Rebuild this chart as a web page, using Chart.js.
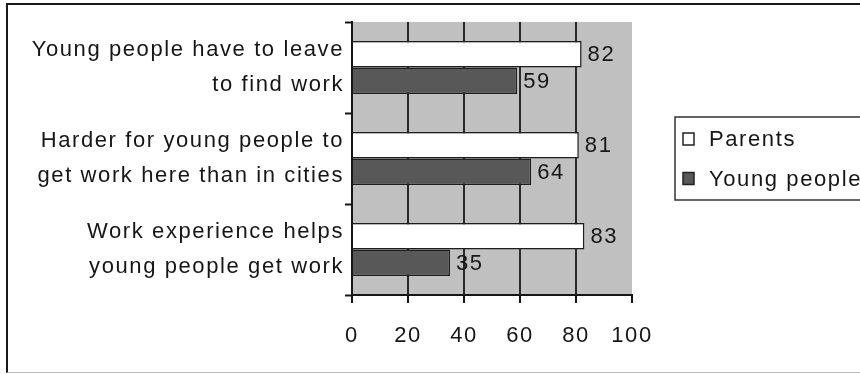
<!DOCTYPE html>
<html>
<head>
<meta charset="utf-8">
<title>Work for young people</title>
<script src="https://cdn.jsdelivr.net/npm/chart.js@4.4.1/dist/chart.umd.min.js"></script>
<style>
  html, body { margin: 0; padding: 0; background: #fff; overflow: hidden; }
  body { width: 860px; height: 374px; position: relative; }
  #frame {
    position: absolute; left: 6px; top: 3px; width: 1000px; height: 367px;
    border-top: 2px solid #1a1a1a; border-left: 2px solid #1a1a1a; border-bottom: 1px solid #bdbdbd;
  }
  #chart { position: absolute; left: 0; top: 0; }
</style>
</head>
<body>
<div id="frame"></div>
<canvas id="chart" width="900" height="374"></canvas>
<script>
// survey answers, percent agreeing
const categories = [
  ['Young people have to leave', 'to find work'],
  ['Harder for young people to', 'get work here than in cities'],
  ['Work experience helps', 'young people get work']
];
const seriesNames = ['Parents', 'Young people'];
const parents = [82, 81, 83];
const youngPeople = [59, 64, 35];
const xTicks = [0, 20, 40, 60, 80, 100];

const ink = '#161616';
const font = { family: "'Liberation Sans', Arial, sans-serif", size: 22 };

// grey plot background, behind grid and bars
const plotBackground = {
  id: 'plotBackground',
  beforeDraw(chart) {
    const { ctx, chartArea: a } = chart;
    ctx.letterSpacing = '1.6px';
    ctx.save();
    ctx.fillStyle = '#c0c0c0';
    ctx.fillRect(a.left, a.top, a.right - a.left, a.bottom - a.top);
    ctx.restore();
  }
};

// value written just past the end of each bar
const valueLabels = {
  id: 'valueLabels',
  afterDatasetsDraw(chart) {
    const ctx = chart.ctx;
    ctx.save();
    ctx.font = `${font.size}px ${font.family}`;
    ctx.fillStyle = ink;
    ctx.textAlign = 'left';
    ctx.textBaseline = 'middle';
    chart.data.datasets.forEach((ds, i) => {
      chart.getDatasetMeta(i).data.forEach((bar, j) => {
        ctx.fillText(String(ds.data[j]), bar.x + 6, bar.y + 1);
      });
    });
    ctx.restore();
  }
};

// boxed legend to the right of the plot
const boxLegend = {
  id: 'boxLegend',
  afterDraw(chart) {
    const { ctx, chartArea: a } = chart;
    const mid = (a.top + a.bottom) / 2;
    const left = a.right + 43;
    ctx.save();
    ctx.strokeStyle = '#333';
    ctx.lineWidth = 1.5;
    ctx.strokeRect(left, mid - 41.5, 200, 83);
    ctx.font = `${font.size}px ${font.family}`;
    ctx.textBaseline = 'middle';
    chart.data.datasets.forEach((ds, i) => {
      const y = mid - 19.5 + i * 39.5;
      ctx.fillStyle = ds.backgroundColor;
      ctx.fillRect(left + 8, y - 6, 11, 12);
      ctx.strokeStyle = '#222';
      ctx.lineWidth = 1.5;
      ctx.strokeRect(left + 8, y - 6, 11, 12);
      ctx.fillStyle = ink;
      ctx.fillText(ds.label, left + 34, y + 1);
    });
    ctx.restore();
  }
};

new Chart(document.getElementById('chart'), {
  type: 'bar',
  data: {
    labels: categories,
    datasets: [
      {
        label: seriesNames[0],
        data: parents,
        backgroundColor: '#ffffff',
        borderColor: '#1e1e1e',
        borderWidth: 1.5
      },
      {
        label: seriesNames[1],
        data: youngPeople,
        backgroundColor: '#585858',
        borderColor: '#1e1e1e',
        borderWidth: 1.5
      }
    ]
  },
  options: {
    indexAxis: 'y',
    responsive: false,
    animation: false,
    devicePixelRatio: 1,
    categoryPercentage: 0.58,
    barPercentage: 1,
    layout: { padding: { left: 10, top: 22, right: 268, bottom: 0 } },
    plugins: {
      legend: { display: false },
      tooltip: { enabled: false }
    },
    scales: {
      x: {
        min: 0,
        max: 100,
        afterBuildTicks: scale => { scale.ticks = xTicks.map(v => ({ value: v })); },
        afterFit: scale => { scale.height = 79; },
        ticks: { font: font, color: ink, padding: 20 },
        grid: {
          color: c => (c.tick && c.tick.value === 100 ? 'rgba(0,0,0,0)' : '#2a2a2a'),
          lineWidth: 2,
          tickColor: ink,
          tickWidth: 2,
          tickLength: 8
        },
        border: { color: ink, width: 2 }
      },
      y: {
        // fixed axis width; labels sit inside their bands, so no end padding
        afterFit: scale => {
          scale.width = 342;
          scale.paddingTop = 0;
          scale.paddingBottom = 0;
        },
        ticks: { font: { ...font, lineHeight: 1.58 }, color: ink, padding: 1 },
        grid: {
          offset: true,
          drawOnChartArea: false,
          tickColor: ink,
          tickWidth: 2,
          tickLength: 7
        },
        border: { color: ink, width: 2 }
      }
    }
  },
  plugins: [plotBackground, valueLabels, boxLegend]
});
</script>
</body>
</html>
